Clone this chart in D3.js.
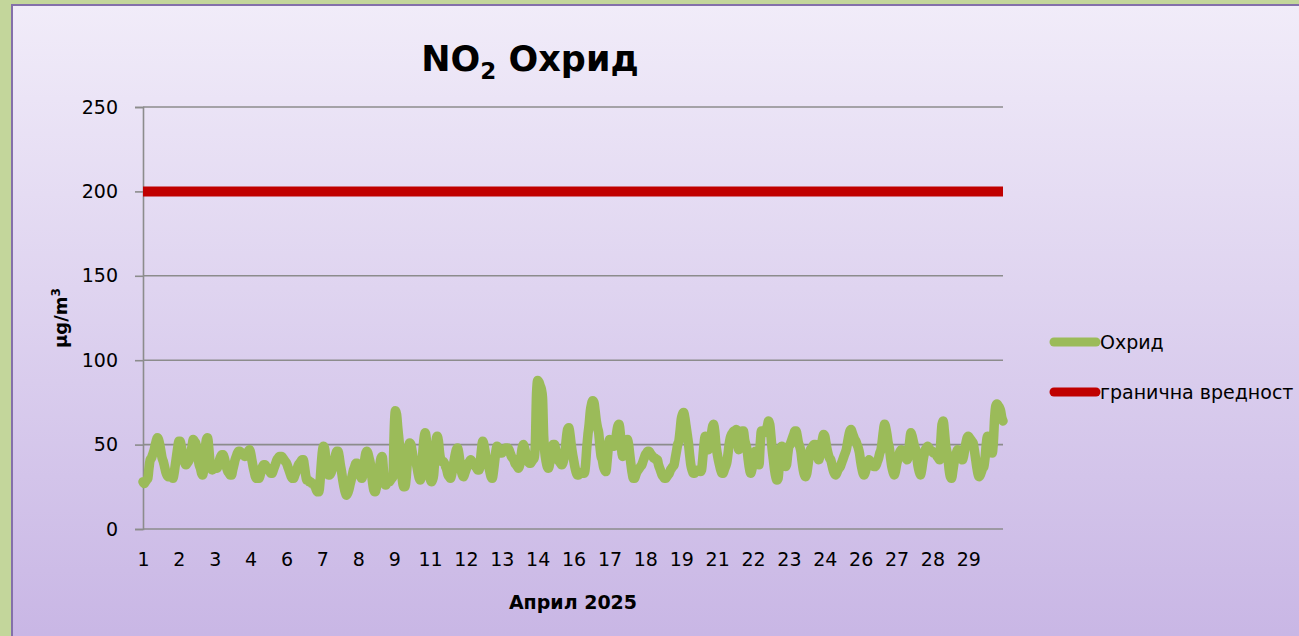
<!DOCTYPE html>
<html>
<head>
<meta charset="utf-8">
<script src="https://cdn.jsdelivr.net/npm/d3@7"></script>
<style>
  html, body { margin: 0; padding: 0; background: #c3d69b; }
  svg { display: block; }
  text { font-family: 'Comic Sans MS', 'DejaVu Sans', sans-serif; fill: #000; }
</style>
</head>
<body>
<svg id="chart" width="1299" height="636"></svg>
<script>
// Hourly NO2 concentrations, Ohrid, April 2025 (µg/m³), one row per day
const no2Ohrid = [
  28,27,28,29,30,36,41,42,44,46,49,52,54,53,50,46,42,40,37,34,32,31,31,32,
  31,30,33,38,43,48,52,52,49,45,42,39,38,39,40,42,45,49,53,52,51,47,42,38,
  36,33,32,38,47,53,54,48,40,36,35,36,36,37,36,38,41,43,44,44,42,39,36,34,
  33,32,32,35,38,41,43,45,46,46,45,44,44,43,44,45,46,47,45,41,37,34,31,30,
  30,30,32,35,37,38,38,37,36,35,34,33,33,35,37,39,41,42,43,43,43,42,41,40,
  39,37,35,33,31,30,30,32,34,36,38,39,40,41,41,37,32,29,29,28,28,27,27,26,
  25,23,22,22,28,38,46,49,47,40,34,32,32,33,35,38,41,44,46,46,43,38,34,29,
  25,22,20,21,23,26,29,32,35,37,39,39,37,34,31,30,33,39,44,46,45,42,39,33,
  27,23,22,24,28,33,38,42,43,35,27,26,27,28,28,29,30,31,58,70,68,60,53,45,
  35,28,25,25,30,40,48,51,50,46,42,40,40,37,33,30,29,35,46,54,57,52,42,33,
  30,28,29,32,42,52,55,52,45,41,40,40,39,37,35,32,31,30,32,36,40,44,47,48,
  45,40,35,32,31,33,35,37,39,40,41,40,39,38,37,36,35,35,40,47,52,50,46,42,
  40,37,34,31,30,34,40,46,49,48,46,45,45,46,47,48,48,48,47,45,43,42,41,39,
  38,37,36,38,43,48,50,48,45,42,40,39,39,40,41,42,50,80,88,87,85,83,78,55,
  45,40,37,36,39,44,48,50,50,47,44,41,40,39,38,39,42,47,54,59,60,56,50,45,
  41,37,34,32,32,33,33,33,34,33,38,48,56,62,70,74,76,75,70,64,60,57,49,43,
  41,37,35,34,40,48,53,52,51,50,49,52,57,61,62,57,48,43,44,48,52,53,50,44,
  38,33,30,30,32,34,35,36,37,38,40,42,44,45,46,46,45,44,43,42,42,41,41,38,
  36,34,32,31,30,30,31,32,33,35,36,37,38,42,46,50,52,58,65,68,69,66,61,56,
  51,44,38,35,33,33,34,34,35,35,34,35,42,50,55,54,50,47,49,55,60,62,58,50,
  45,41,38,35,33,33,35,37,39,44,50,54,56,57,58,58,59,53,47,50,55,58,58,53,
  50,47,41,36,33,35,39,43,46,44,40,38,50,58,58,57,58,59,61,64,62,55,47,41,
  35,31,29,30,39,47,49,45,40,37,38,44,49,50,52,54,56,58,58,55,51,49,46,40,
  35,32,31,33,38,43,47,48,49,50,50,47,43,41,44,49,53,56,55,51,47,44,42,41,
  38,35,33,32,33,35,36,37,39,41,43,45,47,51,55,58,59,57,55,53,52,50,48,45,
  40,36,33,32,34,37,39,41,40,39,38,37,37,38,40,42,45,47,52,58,62,60,56,51,
  48,42,37,34,32,34,38,41,44,46,47,46,45,44,42,41,45,52,57,55,52,49,47,42,
  37,34,32,35,40,44,47,48,49,48,47,46,46,45,45,44,43,42,41,52,62,64,58,50,
  46,42,35,31,30,34,39,43,45,47,46,44,42,41,43,47,51,54,55,54,53,52,51,47,
  42,37,33,31,32,34,36,37,42,50,55,53,49,46,45,52,66,73,74,73,72,70,66,64
];
// Day-of-month for each hourly category
const categoryDays = no2Ohrid.map((_, i) => Math.floor(i / 24) + 1);
// Limit value for hourly NO2
const limitValue = 200;
const limitSeries = no2Ohrid.map(() => limitValue);
const yTicks = [0, 50, 100, 150, 200, 250];
const labelEvery = 30;
const seriesNames = ["Охрид", "гранична вредност"];
const seriesColors = ["#9bbb59", "#c00000"];

const svg = d3.select("#chart");

// Chart area background with vertical lavender gradient
const defs = svg.append("defs");
const grad = defs.append("linearGradient")
  .attr("id", "bg").attr("x1", 0).attr("y1", 0).attr("x2", 0).attr("y2", 1);
grad.append("stop").attr("offset", "0%").attr("stop-color", "#f1ecf9");
grad.append("stop").attr("offset", "100%").attr("stop-color", "#c7b4e4");

svg.append("rect")
  .attr("x", 12).attr("y", 5).attr("width", 1320).attr("height", 660)
  .attr("fill", "url(#bg)")
  .attr("stroke", "#8470aa").attr("stroke-width", 2);

const plot = { left: 143, right: 1003, top: 107, bottom: 529 };

const x = d3.scalePoint()
  .domain(d3.range(no2Ohrid.length))
  .range([plot.left, plot.right]);

const y = d3.scaleLinear()
  .domain([0, 250])
  .range([plot.bottom, plot.top]);

// Horizontal gridlines
svg.append("g")
  .selectAll("line")
  .data(yTicks)
  .join("line")
  .attr("x1", plot.left).attr("x2", plot.right)
  .attr("y1", d => y(d)).attr("y2", d => y(d))
  .attr("stroke", "#8c8c8c").attr("stroke-width", 1.6);

// Y axis
const yAxis = svg.append("g")
  .attr("transform", `translate(${plot.left},0)`)
  .call(d3.axisLeft(y).tickValues(yTicks).tickSize(8).tickPadding(17));
yAxis.select(".domain").attr("stroke", "#8c8c8c").attr("stroke-width", 1.6);
yAxis.selectAll(".tick line").attr("stroke", "#8c8c8c").attr("stroke-width", 1.6);
yAxis.selectAll(".tick text")
  .style("font-family", "'Comic Sans MS', 'DejaVu Sans', sans-serif")
  .style("font-size", "19px").attr("fill", "#000");

// X axis: one label every 30 hourly categories
const xAxis = svg.append("g")
  .attr("transform", `translate(0,${plot.bottom})`)
  .call(d3.axisBottom(x)
    .tickValues(d3.range(0, no2Ohrid.length, labelEvery))
    .tickFormat(i => categoryDays[i])
    .tickSize(0).tickPadding(24));
xAxis.select(".domain").remove();
xAxis.selectAll(".tick text")
  .style("font-family", "'Comic Sans MS', 'DejaVu Sans', sans-serif")
  .style("font-size", "19px").attr("fill", "#000");

// Lines
const line = d3.line()
  .x((d, i) => x(i))
  .y(d => y(d))
  .curve(d3.curveMonotoneX);

svg.append("path")
  .datum(limitSeries)
  .attr("d", line)
  .attr("fill", "none")
  .attr("stroke", seriesColors[1])
  .attr("stroke-width", 10);

svg.append("path")
  .datum(no2Ohrid)
  .attr("d", line)
  .attr("fill", "none")
  .attr("stroke", seriesColors[0])
  .attr("stroke-width", 9.5)
  .attr("stroke-linejoin", "round")
  .attr("stroke-linecap", "round");

// Title
const title = svg.append("text")
  .attr("x", 530).attr("y", 71)
  .attr("text-anchor", "middle")
  .style("font-size", "35px").style("font-weight", "bold");
title.append("tspan").text("NO");
title.append("tspan").text("2").style("font-size", "23px").attr("dy", 8);
title.append("tspan").text("\u00a0Охрид").attr("dy", -8);

// Axis titles
svg.append("text")
  .attr("transform", "translate(67,318) rotate(-90)")
  .attr("text-anchor", "middle")
  .style("font-size", "18px").style("font-weight", "bold")
  .call(t => {
    t.append("tspan").text("µg/m");
    t.append("tspan").text("3").style("font-size", "12px").attr("dy", -7);
  });

svg.append("text")
  .attr("x", (plot.left + plot.right) / 2).attr("y", 609)
  .attr("text-anchor", "middle")
  .style("font-size", "19px").style("font-weight", "bold")
  .text("Април 2025");

// Legend
const legend = svg.append("g")
  .selectAll("g")
  .data(seriesNames)
  .join("g")
  .attr("transform", (d, i) => `translate(1054,${342 + i * 50})`);
legend.append("line")
  .attr("x1", 0).attr("x2", 42)
  .attr("stroke", (d, i) => seriesColors[i])
  .attr("stroke-width", 9)
  .attr("stroke-linecap", "round");
legend.append("text")
  .attr("x", 46).attr("dy", "0.35em")
  .style("font-size", "19px")
  .text(d => d);
</script>
</body>
</html>
